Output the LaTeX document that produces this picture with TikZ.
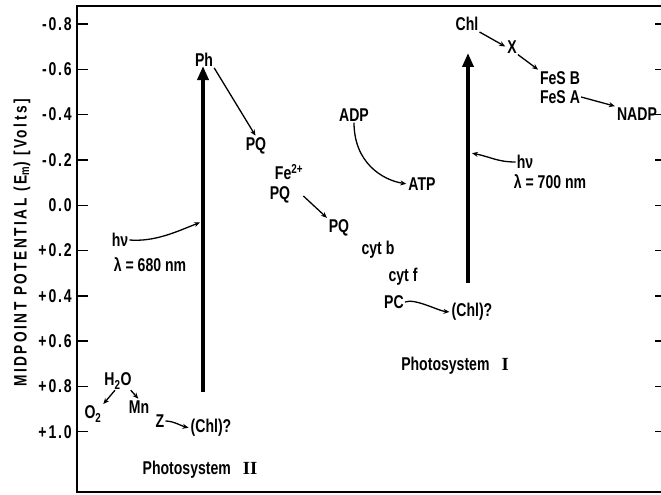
\documentclass[tikz,border=0pt]{standalone}
\usepackage{fontspec}
\setmainfont{Liberation Sans}[FakeStretch=0.76]
\newfontfamily\axisfont{Liberation Sans}[FakeStretch=0.76,LetterSpace=14]
\newfontfamily\tickfont{Liberation Sans}[FakeStretch=0.76,LetterSpace=10]
\newfontfamily\romanfont{Liberation Serif}
\usetikzlibrary{arrows.meta}
\tikzset{
  lbl/.style={font=\fontsize{18.5}{20}\selectfont\bfseries, inner sep=1pt},
  ar/.style={line width=1.3pt, -{Stealth[length=6pt,width=5pt]}, shorten >=1pt},
  bigar/.style={line width=4.5pt, -{Triangle[length=14pt,width=11pt]}},
  frame/.style={line width=1.6pt},
  tickmark/.style={line width=1.4pt}
}
\begin{document}
\begin{tikzpicture}[x=1pt,y=-1pt]
\useasboundingbox (0,0) rectangle (661,495);
% frame
\draw[frame] (661,6) -- (77,6) -- (77,492) -- (661,492);
% ticks and labels
\foreach \v/\t in {0/-0.8,1/-0.6,2/-0.4,3/-0.2,4/0.0,5/+0.2,6/+0.4,7/+0.6,8/+0.8,9/+1.0}{
  \draw[tickmark] (77,{24+\v*45.3}) -- (88,{24+\v*45.3});
  \draw[tickmark] (655,{24+\v*45.3}) -- (661,{24+\v*45.3});
  \node[lbl,anchor=east,font=\tickfont\fontsize{18.5}{20}\selectfont\bfseries] (t\v) at (73,{24+\v*45.3}) {\t};
}
\node[lbl, rotate=90, font=\axisfont\fontsize{18}{20}\selectfont\bfseries] (ylab) at (22,243) {MIDPOINT POTENTIAL (E\textsubscript{m}) [Volts]};

% Photosystem II
\coordinate (ps2bot) at (203,392);
\coordinate (ps2top) at (203,66);
\draw[bigar] (ps2bot) -- (ps2top);
\node[lbl] (Ph) at (204,60) {Ph};
\node[lbl] (hv2) at (120,240) {hν};
\node[lbl] (lam2) at (150,265) {λ = 680 nm};
\coordinate (c2) at (201,222);
\draw[ar] (hv2.east) .. controls +(25,2) and +(-25,10) .. (c2);
\node[lbl] (H2O) at (118,381) {H\textsubscript{2}O};
\node[lbl] (O2) at (93,414) {O\textsubscript{2}};
\node[lbl] (Mn) at (139,407) {Mn};
\node[lbl] (Z) at (160,421) {Z};
\node[lbl] (chl2) at (211,428) {(Chl)?};
\node[lbl] (ps2) at (200,470) {Photosystem\hspace{12pt}{\romanfont\bfseries II}};
\draw[ar] ([xshift=-3pt]H2O.south) -- (O2.north east);
\draw[ar] ([xshift=-2pt]H2O.south east) -- (Mn.north);
\draw[ar] (Z.east) .. controls +(8,0) and +(-8,-2) .. (chl2.west);

% electron transport chain
\node[lbl] (PQ1) at (256,146) {PQ};
\node[lbl] (Fe) at (289,172) {Fe\textsuperscript{2+}};
\node[lbl] (PQ2) at (280,195) {PQ};
\node[lbl] (PQ3) at (339,228) {PQ};
\node[lbl] (cytb) at (378,250) {cyt b};
\node[lbl] (cytf) at (403,277) {cyt f};
\node[lbl] (PC) at (394,302) {PC};
\node[lbl] (chl1) at (472,312) {(Chl)?};
\node[lbl] (ADP) at (354,115) {ADP};
\node[lbl] (ATP) at (422,184) {ATP};
\draw[ar] (Ph.south east) -- (PQ1.north);
\draw[ar] ([xshift=12pt,yshift=-1pt]PQ2.east) -- (PQ3.north west);
\draw[ar] (ADP.south) .. controls +(0,40) and +(-25,-4) .. (ATP.west);
\draw[ar] (PC.east) .. controls +(10,-4) and +(-12,-1) .. (chl1.west);
\node[lbl] (ps1) at (455,366) {Photosystem\hspace{12pt}{\romanfont\bfseries I}};

% Photosystem I
\coordinate (ps1bot) at (468,283);
\coordinate (ps1top) at (468,53);
\draw[bigar] (ps1bot) -- (ps1top);
\node[lbl] (Chl) at (467,24) {Chl};
\node[lbl] (X) at (512,47) {X};
\node[lbl] (FeSB) at (560,78) {FeS B};
\node[lbl] (FeSA) at (560,97) {FeS A};
\node[lbl] (NADP) at (637,114) {NADP};
\node[lbl] (hv1) at (525,162) {hν};
\node[lbl] (lam1) at (550,182) {λ = 700 nm};
\coordinate (c1) at (471,153);
\draw[ar] (hv1.west) .. controls +(-18,0) and +(20,4) .. (c1);
\draw[ar] (Chl.south east) -- (X.west);
\draw[ar] (X.south east) -- (FeSB.north west);
\draw[ar] (FeSA.east) -- (NADP.north west);
\end{tikzpicture}
\end{document}
